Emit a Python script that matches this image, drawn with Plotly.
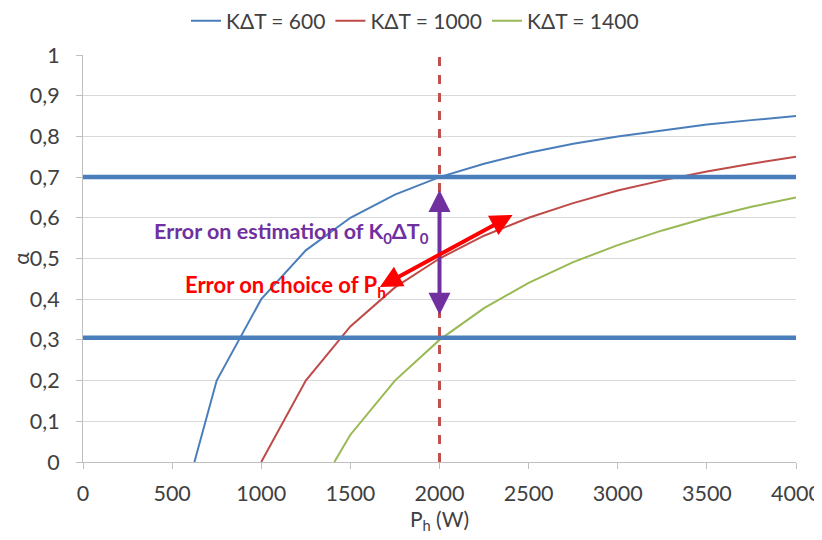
import plotly.graph_objects as go

# Series
p_600 = [625, 750, 1000, 1250, 1500, 1750, 2000, 2250, 2500, 2750, 3000, 3250, 3500, 3750, 4000]
a_600 = [0, 0.2, 0.4, 0.52, 0.6, 0.657, 0.7, 0.733, 0.76, 0.782, 0.8, 0.815, 0.829, 0.84, 0.85]
p_1000 = [1000, 1250, 1500, 1750, 2000, 2250, 2500, 2750, 3000, 3250, 3500, 3750, 4000]
a_1000 = [0, 0.2, 0.333, 0.429, 0.5, 0.556, 0.6, 0.636, 0.667, 0.692, 0.714, 0.733, 0.75]
p_1400 = [1410, 1500, 1750, 2000, 2250, 2500, 2750, 3000, 3250, 3500, 3750, 4000]
a_1400 = [0, 0.067, 0.2, 0.3, 0.378, 0.44, 0.491, 0.533, 0.569, 0.6, 0.627, 0.65]
series_names = ["KΔT = 600", "KΔT = 1000", "KΔT = 1400"]

# Reference lines / arrows
alpha_bounds = [0.7, 0.305]
p_choice = 2000
vert_arrow = [0.358, 0.668]          # alpha range of the purple arrow at p_choice
red_arrow_p = [1657, 2410]
red_arrow_a = [0.428, 0.607]

x_ticks = [0, 500, 1000, 1500, 2000, 2500, 3000, 3500, 4000]
y_ticks = [0, 0.1, 0.2, 0.3, 0.4, 0.5, 0.6, 0.7, 0.8, 0.9, 1]
y_ticktext = ["0", "0,1", "0,2", "0,3", "0,4", "0,5", "0,6", "0,7", "0,8", "0,9", "1"]

FONT = "Lato, 'Open Sans', sans-serif"
colors = ["#4a7ebb", "#be4b48", "#98b954"]

fig = go.Figure()
for px, py, name, c in zip([p_600, p_1000, p_1400], [a_600, a_1000, a_1400], series_names, colors):
    fig.add_trace(go.Scatter(x=px, y=py, mode="lines", name=name,
                             line=dict(color=c, width=2)))

# thick blue horizontal bounds
for b in alpha_bounds:
    fig.add_shape(type="line", xref="x", yref="y", x0=x_ticks[0], x1=x_ticks[-1], y0=b, y1=b,
                  line=dict(color="#4a7ebb", width=4.5), layer="above")

# vertical dashed line
fig.add_shape(type="line", xref="x", yref="y", x0=p_choice, x1=p_choice, y0=y_ticks[0], y1=y_ticks[-1],
              line=dict(color="#c0504d", width=3, dash="dash"), layer="above")

# purple double arrow
fig.add_annotation(x=p_choice, y=vert_arrow[1], ax=p_choice, ay=vert_arrow[0],
                   xref="x", yref="y", axref="x", ayref="y", text="", showarrow=True,
                   arrowhead=2, startarrowhead=2, arrowside="end+start",
                   arrowsize=1.1, startarrowsize=1.1, arrowwidth=4, arrowcolor="#7030a0")
# red double arrow
fig.add_annotation(x=red_arrow_p[1], y=red_arrow_a[1], ax=red_arrow_p[0], ay=red_arrow_a[0],
                   xref="x", yref="y", axref="x", ayref="y", text="", showarrow=True,
                   arrowhead=2, startarrowhead=2, arrowside="end+start",
                   arrowsize=1.1, startarrowsize=1.1, arrowwidth=4, arrowcolor="#ff0000")

fig.add_annotation(x=1169, y=0.563, xref="x", yref="y", showarrow=False,
                   text="<b>Error on estimation of K<sub>0</sub>ΔT<sub>0</sub></b>",
                   font=dict(family=FONT, size=21.5, color="#7030a0"))
fig.add_annotation(x=1135, y=0.432, xref="x", yref="y", showarrow=False,
                   text="<b>Error on choice of P<sub>h</sub></b>",
                   font=dict(family=FONT, size=22, color="#ff0000"))

# The page body adds an 8px margin around the figure: offset the layout accordingly.
W, H = 814, 532
fig.update_layout(
    width=W, height=H,
    margin=dict(l=75, r=26, t=47, b=78, autoexpand=False),
    paper_bgcolor="white", plot_bgcolor="white",
    font=dict(family=FONT, size=21, color="#404040"),
    legend=dict(orientation="h", x=0.5, xanchor="center", y=1 - 13 / H, yanchor="middle",
                xref="container", yref="container", font=dict(size=21, color="#404040"),
                itemwidth=30, traceorder="normal", tracegroupgap=0),
    showlegend=True,
)

fig.update_xaxes(range=[0, 4000], tickvals=x_ticks, ticktext=[str(v) for v in x_ticks],
                 showgrid=False, showline=True, linecolor="#bfbfbf", linewidth=1,
                 ticks="outside", ticklen=6, tickcolor="#bfbfbf", automargin=False,
                 tickfont=dict(size=21.5), ticklabelstandoff=6, ticklabeloverflow="allow",
                 title=dict(text="P<sub>h</sub> (W)", font=dict(size=21), standoff=6),
                 zeroline=False)
fig.update_yaxes(range=[0, 1], tickvals=y_ticks, ticktext=y_ticktext,
                 showgrid=True, gridcolor="#d9d9d9", gridwidth=1,
                 showline=True, linecolor="#bfbfbf", linewidth=1,
                 ticks="outside", ticklen=6, tickcolor="#bfbfbf", automargin=True,
                 tickfont=dict(size=21.5), ticklabelstandoff=12,
                 title=dict(text="α", font=dict(size=21), standoff=12),
                 zeroline=False)

fig.write_html("out.html")
